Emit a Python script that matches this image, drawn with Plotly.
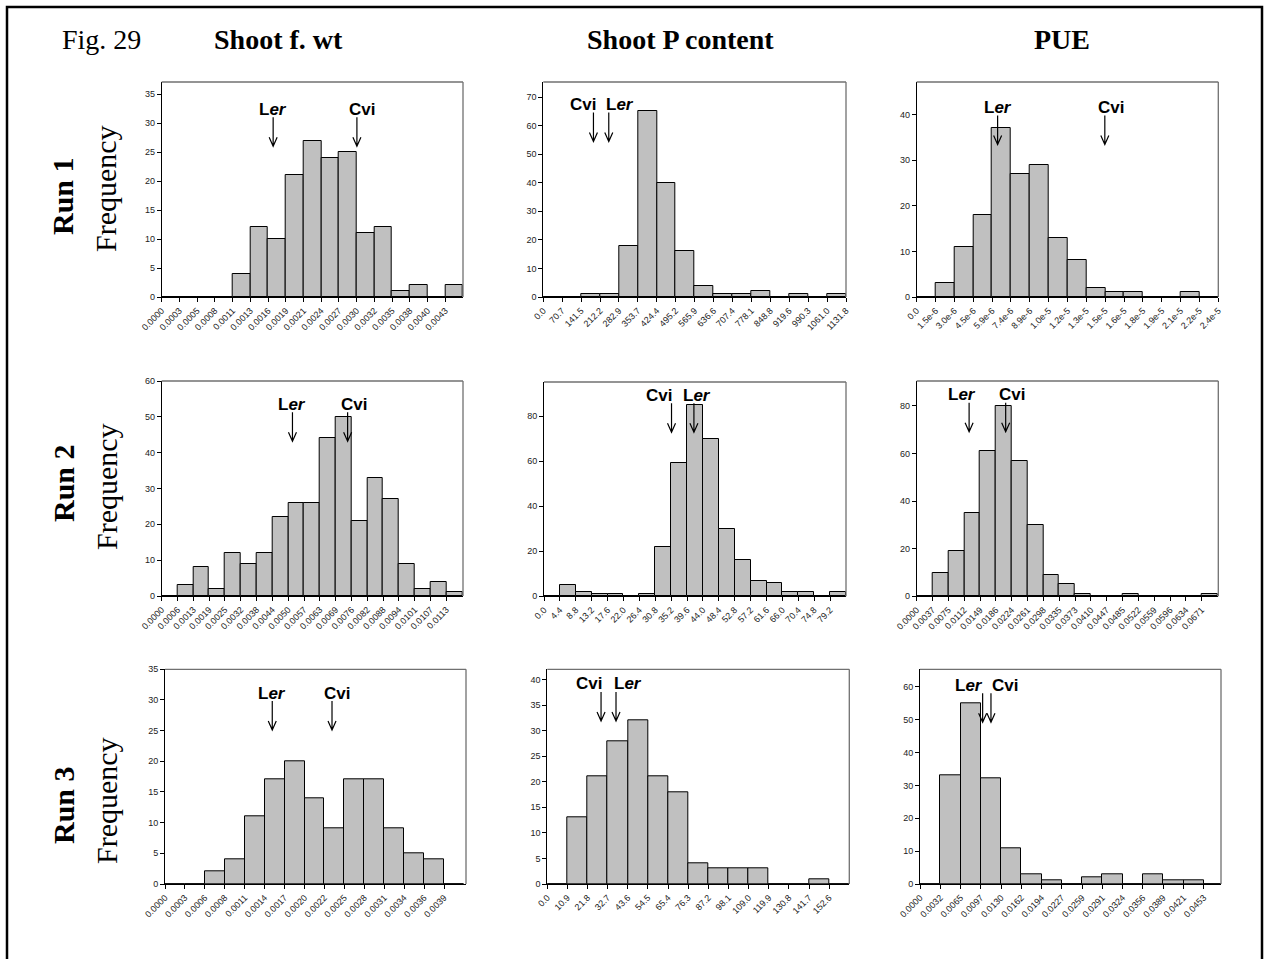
import plotly.graph_objects as go

W, H = 1267, 959

# ---------------- data ----------------
# Run 1
r1_fwt_ticks = ["0.0000", "0.0003", "0.0005", "0.0008", "0.0011", "0.0013", "0.0016", "0.0019", "0.0021",
                "0.0024", "0.0027", "0.0030", "0.0032", "0.0035", "0.0038", "0.0040", "0.0043"]
r1_fwt_counts = [0, 0, 0, 0, 4, 12, 10, 21, 27, 24, 25, 11, 12, 1, 2, 0, 2]
r1_fwt_parents = [("Ler", 0.00169), ("Cvi", 0.00296)]

r1_pc_ticks = ["0.0", "70.7", "141.5", "212.2", "282.9", "353.7", "424.4", "495.2", "565.9",
               "636.6", "707.4", "778.1", "848.8", "919.6", "990.3", "1061.0", "1131.8"]
r1_pc_counts = [0, 0, 1, 1, 18, 65, 40, 16, 4, 1, 1, 2, 0, 1, 0, 1]
r1_pc_parents = [("Cvi", 187.5), ("Ler", 244.8)]

r1_pue_ticks = ["0.0", "1.5e-6", "3.0e-6", "4.5e-6", "5.9e-6", "7.4e-6", "8.9e-6", "1.0e-5", "1.2e-5",
                "1.3e-5", "1.5e-5", "1.6e-5", "1.8e-5", "1.9e-5", "2.1e-5", "2.2e-5", "2.4e-5"]
r1_pue_counts = [0, 3, 11, 18, 37, 27, 29, 13, 8, 2, 1, 1, 0, 0, 1, 0]
r1_pue_parents = [("Ler", 6.44e-6), ("Cvi", 1.497e-5)]

# Run 2
r2_fwt_ticks = ["0.0000", "0.0006", "0.0013", "0.0019", "0.0025", "0.0032", "0.0038", "0.0044", "0.0050",
                "0.0057", "0.0063", "0.0069", "0.0076", "0.0082", "0.0088", "0.0094", "0.0101", "0.0107", "0.0113"]
r2_fwt_counts = [0, 3, 8, 2, 12, 9, 12, 22, 26, 26, 44, 50, 21, 33, 27, 9, 2, 4, 1]
r2_fwt_parents = [("Ler", 0.00519), ("Cvi", 0.00738)]

r2_pc_ticks = ["0.0", "4.4", "8.8", "13.2", "17.6", "22.0", "26.4", "30.8", "35.2", "39.6",
               "44.0", "48.4", "52.8", "57.2", "61.6", "66.0", "70.4", "74.8", "79.2"]
r2_pc_counts = [0, 5, 2, 1, 1, 0, 1, 22, 59, 85, 70, 30, 16, 7, 6, 2, 2, 0, 2]
r2_pc_parents = [("Cvi", 35.3), ("Ler", 41.5)]

r2_pue_ticks = ["0.0000", "0.0037", "0.0075", "0.0112", "0.0149", "0.0186", "0.0224", "0.0261", "0.0298",
                "0.0335", "0.0373", "0.0410", "0.0447", "0.0485", "0.0522", "0.0559", "0.0596", "0.0634", "0.0671"]
r2_pue_counts = [0, 10, 19, 35, 61, 80, 57, 30, 9, 5, 1, 0, 0, 1, 0, 0, 0, 0, 1]
r2_pue_parents = [("Ler", 0.01234), ("Cvi", 0.02095)]

# Run 3
r3_fwt_ticks = ["0.0000", "0.0003", "0.0006", "0.0008", "0.0011", "0.0014", "0.0017", "0.0020",
                "0.0022", "0.0025", "0.0028", "0.0031", "0.0034", "0.0036", "0.0039"]
r3_fwt_counts = [0, 0, 2, 4, 11, 17, 20, 14, 9, 17, 17, 9, 5, 4, 0]
r3_fwt_parents = [("Ler", 0.001499), ("Cvi", 0.002334)]

r3_pc_ticks = ["0.0", "10.9", "21.8", "32.7", "43.6", "54.5", "65.4", "76.3", "87.2", "98.1",
               "109.0", "119.9", "130.8", "141.7", "152.6"]
r3_pc_counts = [0, 13, 21, 28, 32, 21, 18, 4, 3, 3, 3, 0, 0, 1, 0]
r3_pc_parents = [("Cvi", 29.1), ("Ler", 37.2)]

r3_pue_ticks = ["0.0000", "0.0032", "0.0065", "0.0097", "0.0130", "0.0162", "0.0194", "0.0227",
                "0.0259", "0.0291", "0.0324", "0.0356", "0.0389", "0.0421", "0.0453"]
r3_pue_counts = [0, 33, 55, 32, 11, 3, 1, 0, 2, 3, 0, 3, 1, 1, 0]
r3_pue_parents = [("Ler", 0.0100), ("Cvi", 0.01133)]

col_titles = ["Shoot f. wt", "Shoot P content", "PUE"]
row_titles = ["Run 1", "Run 2", "Run 3"]
y_title = "Frequency"
fig_label = "Fig. 29"

# ---------------- layout / style (pixels) ----------------
panels = [
    dict(t=r1_fwt_ticks, c=r1_fwt_counts, p=r1_fwt_parents, box=(161.7, 463, 82, 297), nb=17.0, ymax=37.1, dt=5, tip=26.0, dx={"Ler": 0, "Cvi": 5}),
    dict(t=r1_pc_ticks, c=r1_pc_counts, p=r1_pc_parents, box=(543.3, 846, 82, 297), nb=16.0, ymax=75.25, dt=10, tip=54.4, dx={"Cvi": -10, "Ler": 11}),
    dict(t=r1_pue_ticks, c=r1_pue_counts, p=r1_pue_parents, box=(916.7, 1218.3, 82, 297), nb=16.0, ymax=47.1, dt=10, tip=33.4, dx={"Ler": 0, "Cvi": 6}),
    dict(t=r2_fwt_ticks, c=r2_fwt_counts, p=r2_fwt_parents, box=(161.7, 463, 381, 596), nb=19.05, ymax=60, dt=10, tip=43.2, dx={"Ler": 0, "Cvi": 6}),
    dict(t=r2_pc_ticks, c=r2_pc_counts, p=r2_pc_parents, box=(544, 846, 382, 596.3), nb=19.0, ymax=95.1, dt=20, tip=72.8, dx={"Cvi": -13, "Ler": 3}),
    dict(t=r2_pue_ticks, c=r2_pue_counts, p=r2_pue_parents, box=(916.7, 1218.3, 381, 596.3), nb=19.05, ymax=90.5, dt=20, tip=69.2, dx={"Ler": -7, "Cvi": 6}),
    dict(t=r3_fwt_ticks, c=r3_fwt_counts, p=r3_fwt_parents, box=(165, 466, 669.3, 884), nb=15.1, ymax=35, dt=5, tip=25.1, dx={"Ler": 0, "Cvi": 5}),
    dict(t=r3_pc_ticks, c=r3_pc_counts, p=r3_pc_parents, box=(547.3, 849.3, 669.3, 884), nb=15.0, ymax=42, dt=5, tip=31.9, dx={"Cvi": -12, "Ler": 12}),
    dict(t=r3_pue_ticks, c=r3_pue_counts, p=r3_pue_parents, box=(920, 1221, 669.3, 884), nb=14.85, ymax=65.3, dt=10, tip=49.2, dx={"Ler": -14, "Cvi": 14}),
]

SANS = "Liberation Sans, Arial, sans-serif"
SERIF = "Liberation Serif, Times New Roman, serif"
BAR_FILL = "#c0c0c0"
FRAME_GRAY = "#707070"

fig = go.Figure()
shapes = []
annotations = []
layout_axes = {}

for k, pn in enumerate(panels, start=1):
    sfx = "" if k == 1 else str(k)
    xa, ya = "x" + sfx, "y" + sfx
    left, right, top, bottom = pn["box"]
    ticks = pn["t"]
    bw = float(ticks[-1]) / (len(ticks) - 1)
    counts = pn["c"]
    centers = [(i + 0.5) * bw for i in range(len(counts))]

    fig.add_trace(go.Bar(
        x=centers, y=counts, width=[bw] * len(counts),
        marker=dict(color=BAR_FILL, line=dict(color="black", width=1)),
        xaxis=xa, yaxis=ya, showlegend=False, hoverinfo="x+y",
    ))

    layout_axes["xaxis" + sfx] = dict(
        domain=[left / W, right / W], anchor=ya, range=[0, pn["nb"] * bw],
        tickmode="array", tickvals=[i * bw for i in range(len(ticks))], ticktext=ticks,
        tickangle=-45, tickfont=dict(family=SANS, size=9, color="#222"),
        showline=True, linecolor="black", linewidth=1, ticks="outside", ticklen=4,
        tickcolor="black", tickwidth=1, showgrid=False, zeroline=False, automargin=False,
    )
    layout_axes["yaxis" + sfx] = dict(
        domain=[1 - bottom / H, 1 - top / H], anchor=xa, range=[0, pn["ymax"]],
        tickmode="linear", tick0=0, dtick=pn["dt"],
        tickfont=dict(family=SANS, size=9, color="#222"),
        showline=True, linecolor="black", linewidth=1, ticks="outside", ticklen=4,
        tickcolor="black", tickwidth=1, showgrid=False, zeroline=False, automargin=False,
    )

    shapes.append(dict(type="line", xref=xa + " domain", yref=ya + " domain", x0=0, x1=1, y0=1, y1=1,
                       line=dict(color=FRAME_GRAY, width=1.3)))
    shapes.append(dict(type="line", xref=xa + " domain", yref=ya + " domain", x0=1, x1=1, y0=0, y1=1,
                       line=dict(color=FRAME_GRAY, width=1.3)))

    for name, val in pn["p"]:
        shapes.append(dict(type="path", xref=xa, yref=ya, xsizemode="pixel", ysizemode="pixel",
                           xanchor=val, yanchor=pn["tip"],
                           path="M0,0 L0,29 M-4,9 L0,0 L4,9",
                           line=dict(color="black", width=1.2)))
        txt = "<b>L<i>er</i></b>" if name == "Ler" else "<b>Cvi</b>"
        annotations.append(dict(x=val, y=pn["tip"], xref=xa, yref=ya, text=txt, showarrow=False,
                                xanchor="center", yanchor="middle", yshift=37, xshift=pn["dx"][name],
                                font=dict(family=SANS, size=17, color="black")))

for cx, t in zip([278, 680, 1062], col_titles):
    annotations.append(dict(x=cx / W, y=1 - 40 / H, xref="paper", yref="paper", text="<b>" + t + "</b>",
                            showarrow=False, xanchor="center", yanchor="middle",
                            font=dict(family=SERIF, size=28, color="black")))
annotations.append(dict(x=101 / W, y=1 - 40 / H, xref="paper", yref="paper", text=fig_label,
                        showarrow=False, xanchor="center", yanchor="middle",
                        font=dict(family=SERIF, size=28, color="black")))

for (ry_run, ry_freq), t in zip([(196, 189), (483, 487), (805, 801)], row_titles):
    annotations.append(dict(x=63 / W, y=1 - ry_run / H, xref="paper", yref="paper", text="<b>" + t + "</b>",
                            showarrow=False, textangle=-90, xanchor="center", yanchor="middle",
                            font=dict(family=SERIF, size=30, color="black")))
    annotations.append(dict(x=106 / W, y=1 - ry_freq / H, xref="paper", yref="paper", text=y_title,
                            showarrow=False, textangle=-90, xanchor="center", yanchor="middle",
                            font=dict(family=SERIF, size=30, color="black")))

shapes.append(dict(type="rect", xref="paper", yref="paper", x0=7 / W, x1=1262 / W, y0=-0.02, y1=1 - 7 / H,
                   line=dict(color="black", width=2.5), layer="above"))

fig.update_layout(
    width=W, height=H, margin=dict(l=0, r=0, t=0, b=0),
    paper_bgcolor="white", plot_bgcolor="white",
    bargap=0, shapes=shapes, annotations=annotations, showlegend=False,
    **layout_axes,
)

fig.write_html("out.html")
